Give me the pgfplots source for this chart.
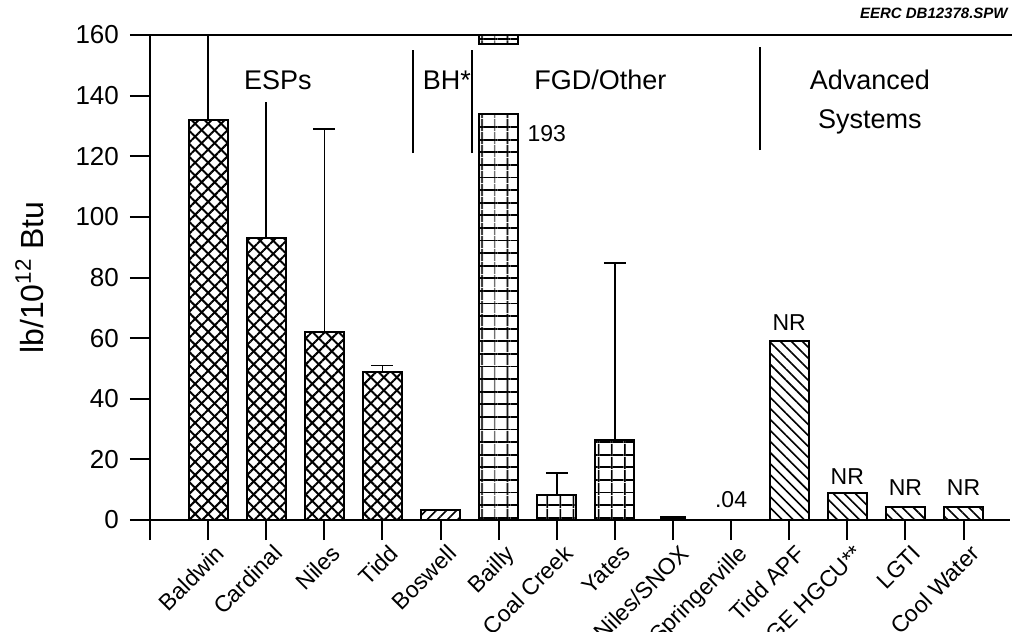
\documentclass[border=0pt]{standalone}
\usepackage{pgfplots}
\pgfplotsset{compat=1.18}
\usepackage{fontspec}
\setmainfont{Liberation Sans}
\usetikzlibrary{patterns.meta}
\tikzset{
  xhatch/.style={pattern={Lines[angle=45,distance=4.6pt,line width=1pt]},
     postaction={pattern={Lines[angle=-45,distance=4.6pt,line width=1pt]}}},
  ghatch/.style={pattern={Lines[angle=0,distance=6.3pt,line width=0.9pt]},
     postaction={pattern={Lines[angle=90,distance=6.5pt,line width=0.9pt]}}},
  nehatch/.style={pattern={Lines[angle=45,distance=3.6pt,line width=0.8pt]}},
  nwhatch/.style={pattern={Lines[angle=-45,distance=3.9pt,line width=0.8pt]}},
}
\begin{document}
\begin{tikzpicture}
\begin{axis}[
  scale only axis,
  width=430pt, height=242.5pt,
  xmin=0, xmax=14.8, ymin=0, ymax=160,
  axis x line*=bottom, axis y line*=left,
  axis line style={-, line width=1pt},
  xtick={0,...,14},
  xticklabels={,Baldwin,Cardinal,Niles,Tidd,Boswell,Bailly,Coal Creek,Yates,Niles/SNOX,Springerville,Tidd APF,GE HGCU**,LGTI,Cool Water},
  ytick={0,20,...,160},
  tick align=outside,
  major tick length=10pt,
  tick style={line width=1pt, black},
  xticklabel style={rotate=45, anchor=north east, font=\fontsize{11.5}{13}\selectfont, inner sep=1pt, yshift=-2pt, xshift=2pt},
  yticklabel style={font=\fontsize{13}{15}\selectfont, xshift=-2pt},
  /pgf/number format/assume math mode=true,
  ylabel={lb/10\textsuperscript{12} Btu},
  ylabel style={at={(axis description cs:-0.14,0.5)}, anchor=center, font=\fontsize{16}{18}\selectfont},
  clip mode=individual,
  every axis plot/.append style={line width=1pt},
  error bars/error bar style={line width=0.8pt},
  error bars/error mark options={rotate=90, mark size=5.5pt, line width=0.8pt},
]
% ESPs
\addplot[ybar, bar width=0.67, bar shift=0pt, draw=black, xhatch,
  error bars/.cd, y dir=plus, y explicit]
  coordinates {(1,132) +- (0,40) (3,62) +- (0,67) (4,49) +- (0,2)};
\addplot[ybar, bar width=0.67, bar shift=0pt, draw=black, xhatch,
  error bars/.cd, y dir=plus, y explicit, error mark=none]
  coordinates {(2,93) +- (0,45)};
% BH
\addplot[ybar, bar width=0.67, bar shift=0pt, draw=black, nehatch]
  coordinates {(5,3.3)};
% FGD / Other
\addplot[ybar, bar width=0.67, bar shift=0pt, draw=black, ghatch]
  coordinates {(6,134)};
\addplot[draw=black, ghatch] coordinates {(5.665,157) (6.335,157) (6.335,170) (5.665,170)} -- cycle;
\addplot[ybar, bar width=0.67, bar shift=0pt, draw=black, ghatch,
  error bars/.cd, y dir=plus, y explicit]
  coordinates {(7,8.3) +- (0,7.2) (8,26.4) +- (0,58.4)};
\addplot[ybar, bar width=0.4, bar shift=0pt, draw=black, fill=black]
  coordinates {(9,1)};
\addplot[ybar, bar width=0.67, bar shift=0pt, draw=black, line width=0.3pt]
  coordinates {(10,0.04)};
% Advanced systems
\addplot[ybar, bar width=0.67, bar shift=0pt, draw=black, nwhatch]
  coordinates {(11,59) (12,8.9) (13,4.3) (14,4.3)};
% group dividers
\addplot[black, line width=1pt] coordinates {(4.53,121) (4.53,155)};
\addplot[black, line width=1pt] coordinates {(5.55,121) (5.55,155)};
\addplot[black, line width=1pt] coordinates {(10.49,122) (10.49,156)};
% top border
\draw[line width=1pt] (rel axis cs:0,1) -- (rel axis cs:1.0023,1);
% texts
\node[font=\fontsize{13.5}{16}\selectfont] at (axis cs:2.20,145.2) {ESPs};
\node[font=\fontsize{13.5}{16}\selectfont] at (axis cs:5.11,145.2) {BH*};
\node[font=\fontsize{13.5}{16}\selectfont] at (axis cs:7.75,145.2) {FGD/Other};
\node[font=\fontsize{13.5}{16}\selectfont] at (axis cs:12.39,145.2) {Advanced};
\node[font=\fontsize{13.5}{16}\selectfont] at (axis cs:12.39,131.5) {Systems};
\node[anchor=west, font=\fontsize{11.5}{13}\selectfont, inner sep=0pt] at (axis cs:6.49,127.4) {193};
\node[font=\fontsize{11.5}{13}\selectfont] at (axis cs:10,6.6) {.04};
\node[font=\fontsize{11.5}{13}\selectfont] at (axis cs:11,65) {NR};
\node[font=\fontsize{11.5}{13}\selectfont] at (axis cs:12,14.2) {NR};
\node[font=\fontsize{11.5}{13}\selectfont] at (axis cs:13,10.6) {NR};
\node[font=\fontsize{11.5}{13}\selectfont] at (axis cs:14,10.6) {NR};
\node[anchor=east, inner sep=0pt, font=\bfseries\itshape\fontsize{7.5}{9}\selectfont] at (rel axis cs:0.9977,1.045) {EERC DB12378.SPW};
\coordinate (bl) at (rel axis cs:-0.1744,-0.2289);
\coordinate (tr) at (rel axis cs:1.0023,1.0722);
\end{axis}
\pgfresetboundingbox
\path[use as bounding box] (bl) rectangle (tr);
\end{tikzpicture}
\end{document}
